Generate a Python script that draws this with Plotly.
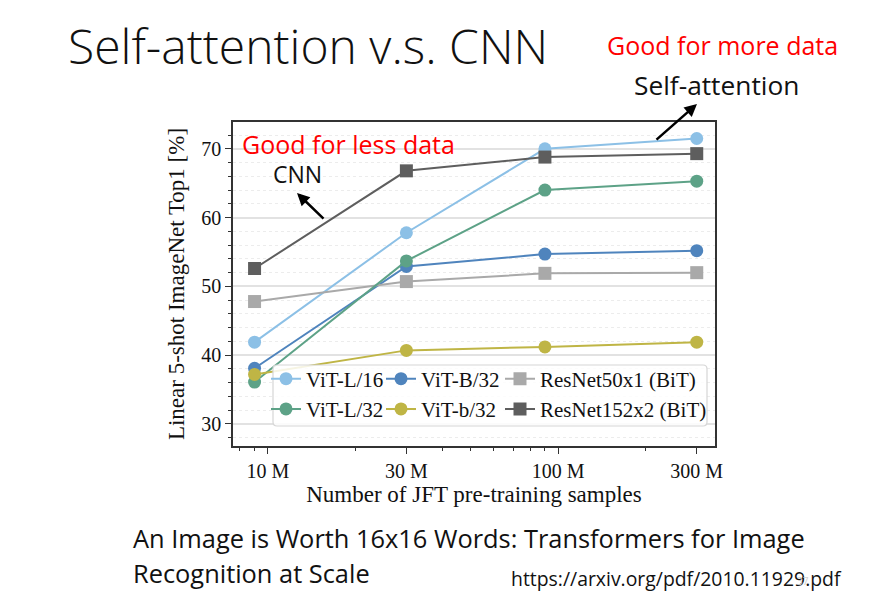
import plotly.graph_objects as go

# JFT subset sizes (points) and axis tick labels
samples = [9e6, 3e7, 9e7, 3e8]
tick_vals = [1e7, 3e7, 1e8, 3e8]
tick_text = ["10 M", "30 M", "100 M", "300 M"]

# 5-shot ImageNet top1 [%]
vit_l16 = [41.9, 57.8, 70.0, 71.5]
vit_b32 = [38.1, 52.9, 54.7, 55.2]
resnet50 = [47.8, 50.7, 51.9, 52.0]
vit_l32 = [36.1, 53.7, 64.0, 65.3]
vit_s32 = [37.2, 40.7, 41.2, 41.9]
resnet152 = [52.6, 66.8, 68.8, 69.3]

W, H = 879, 605
OFF = 8  # page body margin
SERIF = "Liberation Serif, Times New Roman, serif"
SANS = "Open Sans, Lato, sans-serif"


def px(x):
    return (x - OFF) / W


def py(y):
    return 1 - (y - OFF) / H


# name, values, colour, marker, legend column
series = [
    ("ViT-L/16", vit_l16, "#8cc0e6", "circle", "legend"),
    ("ViT-B/32", vit_b32, "#4f84bd", "circle", "legend2"),
    ("ResNet50x1 (BiT)", resnet50, "#a9a9a9", "square", "legend3"),
    ("ViT-L/32", vit_l32, "#5da287", "circle", "legend"),
    ("ViT-b/32", vit_s32, "#bfb545", "circle", "legend2"),
    ("ResNet152x2 (BiT)", resnet152, "#5e5e5e", "square", "legend3"),
]

fig = go.Figure()
for name, vals, col, sym, leg in series:
    fig.add_trace(go.Scatter(
        x=samples, y=vals, name=name, mode="lines+markers",
        line=dict(color=col, width=2),
        marker=dict(color=col, size=13, symbol=sym),
        legend=leg,
    ))

minor_x = [8e6, 9e6, 2e7, 4e7, 5e7, 6e7, 7e7, 8e7, 9e7, 2e8]

fig.update_xaxes(
    type="log", range=[6.88, 8.54], domain=[px(233), px(715)],
    tickvals=tick_vals, ticktext=tick_text,
    ticks="outside", ticklen=6, tickcolor="#333",
    showgrid=False, zeroline=False, automargin=False,
    showline=True, linecolor="#333", linewidth=1.5, mirror=True,
    tickfont=dict(family=SERIF, size=20, color="#111"),
    title=dict(text="Number of JFT pre-training samples", standoff=2,
               font=dict(family=SERIF, size=23, color="#111")),
    minor=dict(tickvals=minor_x, ticks="outside", ticklen=3, tickcolor="#333", showgrid=False),
)
fig.update_yaxes(
    range=[26.8, 73.9], domain=[py(446), py(122)],
    tickvals=[30, 40, 50, 60, 70],
    ticks="outside", ticklen=6, tickcolor="#333",
    showgrid=True, gridcolor="#e2e2e2", gridwidth=1.5, zeroline=False,
    showline=True, linecolor="#333", linewidth=1.5, mirror=True, automargin=False,
    tickfont=dict(family=SERIF, size=20, color="#111"),
    title=dict(text="Linear 5-shot ImageNet Top1 [%]", standoff=10,
               font=dict(family=SERIF, size=23, color="#111")),
    minor=dict(dtick=2, tick0=0, ticks="outside", ticklen=3, tickcolor="#333",
               showgrid=True, gridcolor="#ececec", griddash="dot", gridwidth=1),
)

legend_style = dict(
    orientation="v", xanchor="left", yanchor="middle", y=py(394),
    bgcolor="rgba(0,0,0,0)", borderwidth=0,
    font=dict(family=SERIF, size=21, color="#111"),
    itemwidth=30, tracegroupgap=0,
)

# legend frame, slightly rounded
x0, x1, y0, y1, r = px(273), px(707), py(426), py(365), 4 / W
ry = 4 / H
frame = (f"M {x0 + r},{y0} L {x1 - r},{y0} Q {x1},{y0} {x1},{y0 + ry} "
         f"L {x1},{y1 - ry} Q {x1},{y1} {x1 - r},{y1} L {x0 + r},{y1} "
         f"Q {x0},{y1} {x0},{y1 - ry} L {x0},{y0 + ry} Q {x0},{y0} {x0 + r},{y0} Z")
fig.add_shape(type="path", path=frame, xref="paper", yref="paper",
              line=dict(color="#d6d6d6", width=1.2), fillcolor="rgba(255,255,255,0.85)",
              layer="above")

annotations = [
    dict(text="Self-attention v.s. CNN", x=px(66), y=py(45), xanchor="left",
         font=dict(family=SANS, size=48, color="#111", weight=300)),
    dict(text="Good for more data", x=px(605), y=py(45), xanchor="left",
         font=dict(family=SANS, size=25, color="#ff0000")),
    dict(text="Self-attention", x=px(632), y=py(85), xanchor="left",
         font=dict(family=SANS, size=26.3, color="#111")),
    dict(text="Good for less data", x=px(240), y=py(144), xanchor="left",
         font=dict(family=SANS, size=25, color="#ff0000")),
    dict(text="CNN", x=px(271), y=py(174), xanchor="left",
         font=dict(family=SANS, size=23, color="#111")),
    dict(text="An Image is Worth 16x16 Words: Transformers for Image", x=px(131), y=py(538),
         xanchor="left", font=dict(family=SANS, size=25.4, color="#111")),
    dict(text="Recognition at Scale", x=px(131), y=py(573), xanchor="left",
         font=dict(family=SANS, size=25.4, color="#111")),
    dict(text="https://arxiv.org/pdf/2010.11929.pdf", x=px(509), y=py(578), xanchor="left",
         font=dict(family=SANS, size=19.4, color="#111")),
    dict(text="37", x=px(803), y=py(581), xanchor="center",
         font=dict(family=SANS, size=10, color="#d0d0d0")),
]
for a in annotations:
    a.update(xref="paper", yref="paper", yanchor="middle", showarrow=False)

arrows = [
    dict(x=px(697), y=py(104), ax=-42, ay=37),
    dict(x=px(297), y=py(193), ax=28, ay=27),
]
for a in arrows:
    a.update(xref="paper", yref="paper", text="", showarrow=True,
             arrowhead=2, arrowsize=1, arrowwidth=2.5, arrowcolor="#000")

fig.update_layout(
    width=W, height=H,
    margin=dict(l=0, r=0, t=0, b=0),
    paper_bgcolor="white", plot_bgcolor="white",
    annotations=annotations + arrows,
    legend=dict(x=px(266), **legend_style),
    legend2=dict(x=px(381), **legend_style),
    legend3=dict(x=px(500), **legend_style),
    showlegend=True,
)

fig.write_html("out.html")
